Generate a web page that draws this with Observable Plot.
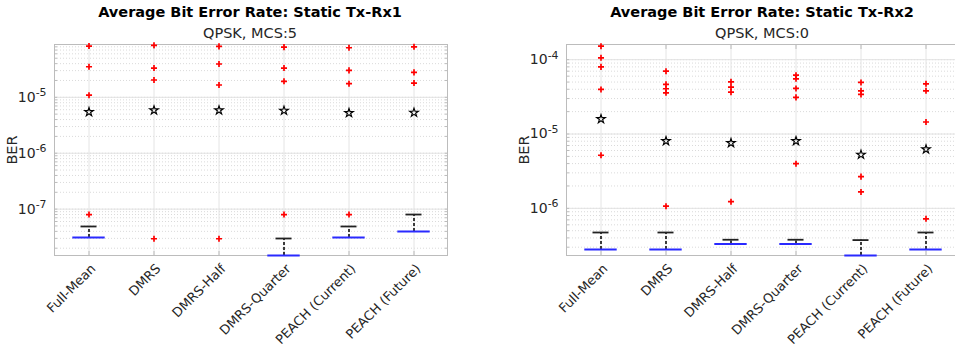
<!DOCTYPE html>
<html>
<head>
<meta charset="utf-8">
<script src="https://cdn.jsdelivr.net/npm/d3@7"></script>
<script src="https://cdn.jsdelivr.net/npm/@observablehq/plot@0.6"></script>
<style>
  body { margin: 0; background: #fff; font-family: "DejaVu Sans", sans-serif; }
  #wrap { position: relative; width: 955px; height: 350px; overflow: hidden; background: #fff; }
  .panel { position: absolute; top: 0; width: 480px; height: 350px; }
  .title, .subtitle { position: absolute; width: 440px; text-align: center; color: #000; white-space: nowrap; line-height: 14px; font-family: "DejaVu Sans", sans-serif; }
  .title { font-weight: bold; font-size: 14.5px; top: 5px; }
  .subtitle { font-size: 14.5px; top: 26px; color: #262626; }
</style>
</head>
<body>
<div id="wrap">
  <div class="panel" id="p1" style="left:0px">
    <div class="title" style="left:30px">Average Bit Error Rate: Static Tx-Rx1</div>
    <div class="subtitle" style="left:30px">QPSK, MCS:5</div>
  </div>
  <div class="panel" id="p2" style="left:480px">
    <div class="title" style="left:62px">Average Bit Error Rate: Static Tx-Rx2</div>
    <div class="subtitle" style="left:62px">QPSK, MCS:0</div>
  </div>
</div>
<script>
const categories = ["Full-Mean", "DMRS", "DMRS-Half", "DMRS-Quarter", "PEACH (Current)", "PEACH (Future)"];

// Static Tx-Rx1 (QPSK, MCS:5)
const rx1Median = [3.11e-8, null, null, 1.48e-8, 3.11e-8, 3.98e-8];
const rx1WhiskerTop = [4.89e-8, null, null, 2.98e-8, 4.89e-8, 8.0e-8];
const rx1Mean = [5.46e-6, 5.86e-6, 5.86e-6, 5.77e-6, 5.25e-6, 5.31e-6];
const rx1Outliers = [
  [8.24e-5, 3.52e-5, 1.09e-5, 8.0e-8],
  [8.5e-5, 3.33e-5, 2.04e-5, 2.95e-8],
  [8.15e-5, 3.94e-5, 1.66e-5, 2.95e-8],
  [7.9e-5, 3.33e-5, 1.93e-5, 8.0e-8],
  [7.7e-5, 3.03e-5, 1.75e-5, 8.0e-8],
  [8.0e-5, 2.79e-5, 1.80e-5]
];
const rx1Ticks = [1e-7, 1e-6, 1e-5];
const rx1Domain = [1.48e-8, 8.8e-5];

// Static Tx-Rx2 (QPSK, MCS:0)
const rx2Median = [2.80e-7, 2.80e-7, 3.31e-7, 3.31e-7, 2.32e-7, 2.80e-7];
const rx2WhiskerTop = [4.73e-7, 4.73e-7, 3.78e-7, 3.78e-7, 3.74e-7, 4.73e-7];
const rx2Mean = [1.59e-5, 8.05e-6, 7.57e-6, 8.05e-6, 5.27e-6, 6.23e-6];
const rx2Outliers = [
  [1.52e-4, 1.06e-4, 8.0e-5, 3.98e-5, 5.18e-6],
  [7.0e-5, 4.65e-5, 4.06e-5, 3.58e-5, 1.07e-6],
  [5.04e-5, 4.27e-5, 3.66e-5, 1.23e-6],
  [6.19e-5, 5.52e-5, 4.10e-5, 3.11e-5, 3.99e-6],
  [4.94e-5, 3.81e-5, 3.41e-5, 2.67e-6, 1.66e-6],
  [4.73e-5, 3.81e-5, 1.45e-5, 7.23e-7]
];
const rx2Ticks = [1e-6, 1e-5, 1e-4];
const rx2Domain = [2.32e-7, 1.6e-4];

function superscripts(svg) {
  d3.select(svg).selectAll("text").each(function () {
    const m = /^10\^(-?\d+)$/.exec(this.textContent);
    if (!m) return;
    const t = d3.select(this);
    t.text(null);
    t.append("tspan").text("10");
    t.append("tspan").attr("dy", "-0.5em").attr("font-size", "0.78em").text(m[1]);
  });
}

function chart({median, cap, mean, outliers, ticks, domain, marginLeft, marginRight}) {
  const boxes = categories.map((c, i) => ({c, median: median[i], cap: cap[i], mean: mean[i]}));
  const withBox = boxes.filter(d => d.median != null);
  const outs = categories.flatMap((c, i) => outliers[i].map(v => ({c, v})));
  const grey = "#bcbcbc";
  const svg = Plot.plot({
    width: 480,
    height: 350,
    marginTop: 44,
    marginBottom: 95,
    marginLeft,
    marginRight,
    style: {fontFamily: "DejaVu Sans", fontSize: "14px", color: "#262626", background: "transparent", overflow: "visible"},
    x: {type: "band", domain: categories, padding: 0},
    y: {type: "log", domain},
    marks: [
      Plot.gridY({stroke: "#dadada", strokeOpacity: 1, strokeDasharray: "1,2"}),
      Plot.gridY(ticks, {stroke: "#e2e2e2", strokeOpacity: 1}),
      Plot.gridX({stroke: "#e4e4e4", strokeOpacity: 1}),
      Plot.axisY({anchor: "left", tickSize: 3, dx: 3, tickFormat: () => "", label: null, stroke: grey}),
      Plot.axisY({anchor: "right", tickSize: 3, dx: -3, tickFormat: () => "", label: null, stroke: grey}),
      Plot.axisX({anchor: "bottom", tickSize: 4, dy: -4, tickFormat: () => "", label: null, stroke: grey}),
      Plot.axisX({anchor: "top", tickSize: 4, dy: 4, tickFormat: () => "", label: null, stroke: grey}),
      Plot.axisY(ticks, {anchor: "left", tickSize: 0, tickPadding: 8, tickFormat: d => "10^" + Math.round(Math.log10(d)), label: null, fontSize: 14}),
      Plot.axisX({anchor: "bottom", tickSize: 0, tickPadding: 0, dx: 4.5, dy: 11, tickRotate: -45, label: null, fontSize: 13}),
      Plot.text(["BER"], {frameAnchor: "left", textAnchor: "middle", rotate: -90, dx: -42, fontSize: 14.5, fill: "#262626"}),
      Plot.frame({stroke: grey}),
      Plot.ruleX(withBox, {x: "c", y1: "median", y2: "cap", stroke: "black", strokeWidth: 1.5, strokeDasharray: "3,2"}),
      Plot.tickY(withBox, {x: "c", y: "cap", stroke: "#222", strokeWidth: 1.8, insetLeft: 24.5, insetRight: 24.5}),
      Plot.tickY(withBox, {x: "c", y: "median", stroke: "#2a2aff", strokeWidth: 2, insetLeft: 16.3, insetRight: 16.3}),
      Plot.dot(outs, {x: "c", y: "v", symbol: "plus", stroke: "#ff0000", fill: "none", strokeWidth: 1.7, r: 2.1}),
      Plot.dot(boxes, {x: "c", y: "mean", symbol: "star", fill: "none", stroke: "black", strokeWidth: 1.15, r: 2.7})
    ]
  });
  superscripts(svg);
  svg.style.position = "absolute";
  svg.style.left = "0px";
  svg.style.top = "0px";
  return svg;
}

document.getElementById("p1").prepend(chart({
  median: rx1Median, cap: rx1WhiskerTop, mean: rx1Mean, outliers: rx1Outliers,
  ticks: rx1Ticks, domain: rx1Domain, marginLeft: 54, marginRight: 33
}));
document.getElementById("p2").prepend(chart({
  median: rx2Median, cap: rx2WhiskerTop, mean: rx2Mean, outliers: rx2Outliers,
  ticks: rx2Ticks, domain: rx2Domain, marginLeft: 86, marginRight: 1
}));
</script>
</body>
</html>
